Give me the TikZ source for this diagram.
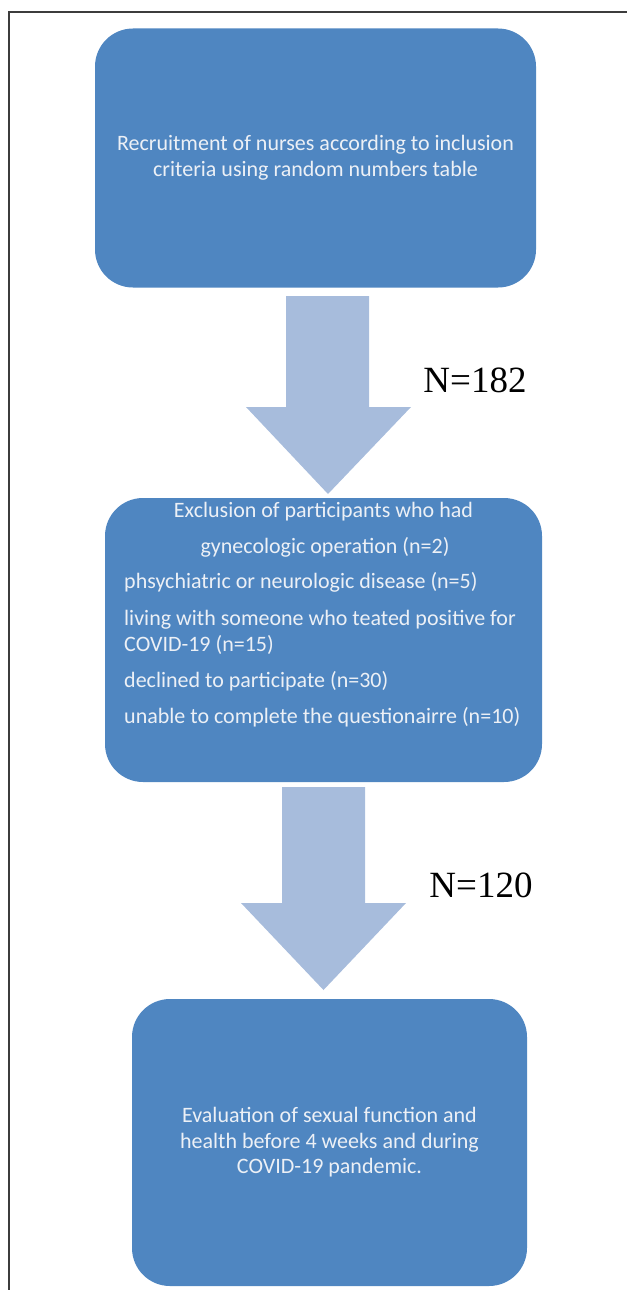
\documentclass[tikz,border=0pt]{standalone}
\usepackage{fontspec}
\setmainfont{Carlito}
\newfontfamily\timesf{Liberation Serif}
\definecolor{boxblue}{RGB}{79,134,193}
\definecolor{arrowblue}{RGB}{167,188,220}
\definecolor{txtwhite}{RGB}{236,240,246}
\definecolor{framegray}{RGB}{60,60,60}
\tikzset{
  flowbox/.style={fill=boxblue, draw=none, rounded corners=38pt, inner sep=0pt, align=center, text=txtwhite, font=\fontsize{22}{25.5}\selectfont},
  boxline/.style={text=txtwhite, font=\fontsize{22}{25.5}\selectfont, inner sep=0pt},
  blockarrow/.style={fill=arrowblue, draw=none},
  countlabel/.style={font=\timesf\fontsize{37}{40}\selectfont, inner sep=0pt, text=black},
  frameline/.style={draw=framegray, line width=1.1pt}
}
\begin{document}
\begin{tikzpicture}[x=1pt,y=-1pt]
\useasboundingbox (0,0) rectangle (627,1290);
\draw[frameline] (9,1290) -- (9,12) -- (627,12);
% boxes
\node[flowbox, minimum width=441pt, minimum height=259pt] (b1) at (315.5,158)
  {Recruitment of nurses according to inclusion\\criteria using random numbers table};
\node[flowbox, minimum width=437pt, minimum height=284pt] (b2) at (323.5,640) {};
\node[flowbox, minimum width=395pt, minimum height=287pt] (b3) at (329.5,1142.5)
  {Evaluation of sexual function and\\health before 4 weeks and during\\COVID-19 pandemic.};
% box 2 text
\node[boxline, anchor=base] (t1) at (323.5,517) {Exclusion of participants who had};
\node[boxline, anchor=base] (t2) at (325,553) {gynecologic operation (n=2)};
\node[boxline, anchor=base west] (t3) at (124,588) {phsychiatric or neurologic disease (n=5)};
\node[boxline, anchor=base west] (t4) at (124,625) {living with someone who teated positive for};
\node[boxline, anchor=base west] (t5) at (124,651) {COVID-19 (n=15)};
\node[boxline, anchor=base west] (t6) at (124,687) {declined to participate (n=30)};
\node[boxline, anchor=base west] (t7) at (124,723) {unable to complete the questionairre (n=10)};
% block arrows
\coordinate (a1top) at (327.5,296);
\coordinate (a1tip) at (328,494);
\fill[blockarrow] (286,296) -- (369,296) -- (369,407) -- (411,407) -- (a1tip) -- (246,407) -- (286,407) -- cycle;
\coordinate (a2top) at (323.5,787);
\coordinate (a2tip) at (323.5,990);
\fill[blockarrow] (282,787) -- (365,787) -- (365,903) -- (406,903) -- (a2tip) -- (241,903) -- (282,903) -- cycle;
% labels
\node[countlabel, anchor=base] (n1) at (475,392) {N=182};
\node[countlabel, anchor=base] (n2) at (481,897) {N=120};
\end{tikzpicture}
\end{document}
